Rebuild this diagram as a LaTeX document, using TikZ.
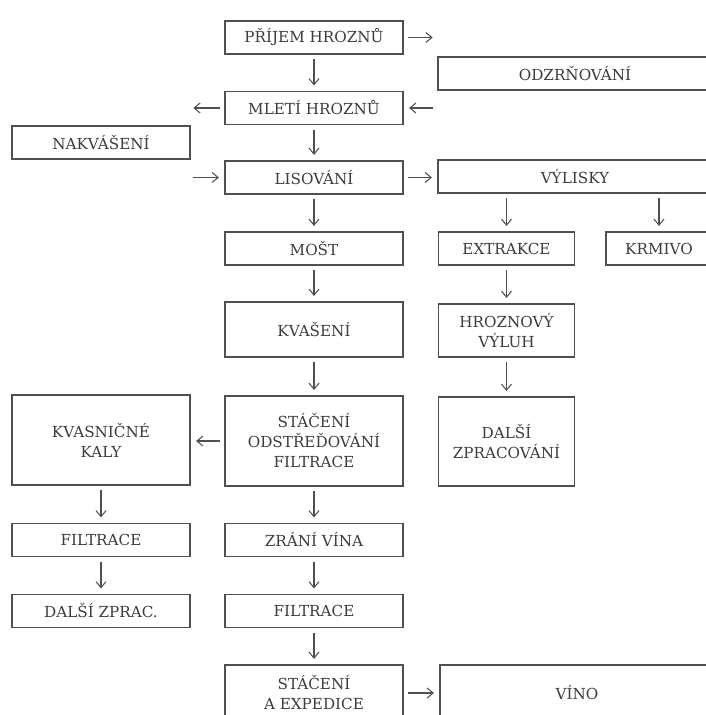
\documentclass[tikz,border=0pt]{standalone}
\usepackage{fontspec}
\setmainfont{DejaVu Serif}
\usetikzlibrary{arrows.meta}
\definecolor{linegray}{HTML}{505050}
\definecolor{textgray}{HTML}{3C3C3C}
\begin{document}
\begin{tikzpicture}[x=0.75pt,y=-0.75pt,
  box/.style={draw=linegray, line width=1.1pt, minimum width=178*0.75pt,
    minimum height=33*0.75pt, inner sep=0pt, align=center, text=textgray,
    font=\fontsize{11.4}{15}\selectfont},
  conn/.style={draw=linegray, line width=0.8pt,
    -{Straight Barb[length=4.5pt,width=7.5pt]}, shorten <=3.5pt, shorten >=4pt}]
\useasboundingbox (0,0) rectangle (706,715);
\fill[white] (0,0) rectangle (706,715);
\clip (0,0) rectangle (706,715);

% main column
\node[box] (prijem) at (314,37.5) {PŘÍJEM HROZNŮ};
\node[box] (mleti) at (314,108) {MLETÍ HROZNŮ};
\node[box] (lis) at (314,177.5) {LISOVÁNÍ};
\node[box] (most) at (314,248.5) {MOŠT};
\node[box, minimum height=55*0.75pt] (kvas) at (314,329.5) {KVAŠENÍ};
\node[box, minimum height=90*0.75pt] (stac) at (314,441) {STÁČENÍ\\ODSTŘEĎOVÁNÍ\\FILTRACE};
\node[box] (zrani) at (314,540) {ZRÁNÍ VÍNA};
\node[box] (filtc) at (314,611) {FILTRACE};
\node[box, minimum height=56*0.75pt] (exped) at (314,693) {STÁČENÍ\\A EXPEDICE};

% left column
\node[box] (nakv) at (101,142.5) {NAKVÁŠENÍ};
\node[box, minimum height=90*0.75pt] (kvasn) at (101,440) {KVASNIČNÉ\\KALY};
\node[box] (filtl) at (101,540) {FILTRACE};
\node[box] (dalsiz) at (101,611) {DALŠÍ ZPRAC.};

% right columns
\node[box, minimum width=274*0.75pt] (odzr) at (575,73.5) {ODZRŇOVÁNÍ};
\node[box, minimum width=274*0.75pt] (vylisky) at (575,176.5) {VÝLISKY};
\node[box, minimum width=136*0.75pt] (extr) at (506.5,248.5) {EXTRAKCE};
\node[box, minimum width=106*0.75pt] (krmivo) at (659,248.5) {KRMIVO};
\node[box, minimum width=136*0.75pt, minimum height=53*0.75pt] (hroz) at (506.5,330.5) {HROZNOVÝ\\VÝLUH};
\node[box, minimum width=136*0.75pt, minimum height=89*0.75pt] (dalsi) at (506.5,441.5) {DALŠÍ\\ZPRACOVÁNÍ};
\node[box, minimum width=274*0.75pt, minimum height=56*0.75pt] (vino) at (577,693) {VÍNO};

% free ends
\coordinate (c1) at (438,37.5);
\coordinate (c2) at (438,108);
\coordinate (c3) at (188,108);
\coordinate (c4) at (188,177.5);

% connectors
\draw[conn] (prijem) -- (mleti);
\draw[conn] (mleti) -- (lis);
\draw[conn] (lis) -- (most);
\draw[conn] (most) -- (kvas);
\draw[conn] (kvas) -- (stac);
\draw[conn] (stac) -- (zrani);
\draw[conn] (zrani) -- (filtc);
\draw[conn] (filtc) -- (exped);
\draw[conn] (exped) -- (vino);
\draw[conn] (prijem.east) -- (c1);
\draw[conn] (c2) -- (mleti.east);
\draw[conn] (mleti.west) -- (c3);
\draw[conn] (c4) -- (lis.west);
\draw[conn] (lis.east) -- (lis.east -| vylisky.west);
\draw[conn] (vylisky.south -| extr.north) -- (extr.north);
\draw[conn] (vylisky.south -| krmivo.north) -- (krmivo.north);
\draw[conn] (extr) -- (hroz);
\draw[conn] (hroz) -- (dalsi);
\draw[conn] (stac.west) -- (stac.west -| kvasn.east);
\draw[conn] (kvasn) -- (filtl);
\draw[conn] (filtl) -- (dalsiz);
\end{tikzpicture}
\end{document}
